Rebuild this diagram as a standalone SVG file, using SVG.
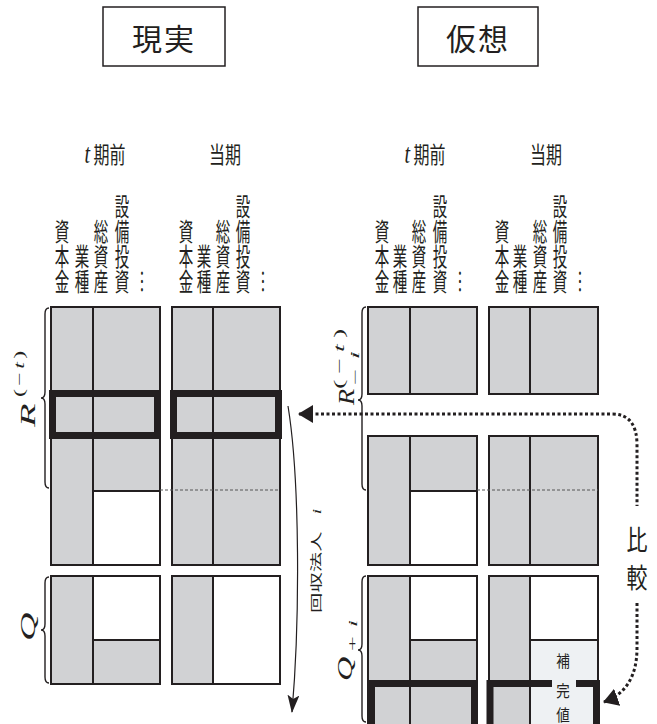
<svg xmlns="http://www.w3.org/2000/svg" width="657" height="724" viewBox="0 0 657 724">
<defs>
<style>
.g{fill:#d1d2d4}
.w{fill:#ffffff}
.lt{fill:#eef1f3}
.o{fill:none;stroke:#231f20;stroke-width:2}
.ln{stroke:#231f20;stroke-width:2}
.th{fill:none;stroke:#231f20;stroke-width:7}
.ds{stroke:#555;stroke-width:1;stroke-dasharray:3 2}
.jp{font-family:"Noto Sans CJK JP","Noto Sans CJK SC",sans-serif;fill:#231f20}
.vh{font-family:"Noto Sans CJK JP","Noto Sans CJK SC",sans-serif;font-size:14.5px;fill:#231f20;writing-mode:vertical-rl;text-anchor:end}
.m{font-family:"Liberation Serif",serif;font-style:italic;fill:#231f20}
.br{fill:none;stroke:#231f20;stroke-width:1.4}
.dot{fill:none;stroke:#231f20;stroke-width:3;stroke-dasharray:3 2.5}
</style>
<marker id="ad" viewBox="0 0 15 18" markerWidth="15" markerHeight="18" refX="14" refY="9" orient="auto-start-reverse" markerUnits="userSpaceOnUse">
<path d="M0,0 L15,9 L0,18 z" fill="#231f20"/>
</marker>
<marker id="at" viewBox="0 0 18 12" markerWidth="18" markerHeight="12" refX="17" refY="6" orient="auto" markerUnits="userSpaceOnUse">
<path d="M0,0 L18,6 L0,12 L4,6 z" fill="#231f20"/>
</marker>
</defs>
<rect width="657" height="724" fill="#ffffff"/>

<g id="title-real">
<rect x="103" y="7" width="122" height="59" fill="none" stroke="#231f20" stroke-width="1.5"/>
<text class="jp" x="164" y="50" font-size="30" text-anchor="middle" letter-spacing="2">現実</text>
</g>
<g id="title-virtual">
<rect x="418" y="7" width="120" height="59" fill="none" stroke="#231f20" stroke-width="1.5"/>
<text class="jp" x="478" y="50" font-size="30" text-anchor="middle" letter-spacing="2">仮想</text>
</g>

<g id="headers">
<text class="jp" transform="translate(105,163) scale(1,1.4)" font-size="16" text-anchor="middle"><tspan class="m" font-size="20">t</tspan> 期前</text>
<text class="jp" transform="translate(225,163) scale(1,1.4)" font-size="16" text-anchor="middle">当期</text>
<text class="jp" transform="translate(425,163) scale(1,1.4)" font-size="16" text-anchor="middle"><tspan class="m" font-size="20">t</tspan> 期前</text>
<text class="jp" transform="translate(546,163) scale(1,1.4)" font-size="16" text-anchor="middle">当期</text>
</g>

<g id="col-labels">
<text class="vh" transform="translate(62,294) scale(1,1.72)">資本金</text>
<text class="vh" transform="translate(82,294) scale(1,1.72)">業種</text>
<text class="vh" transform="translate(101,294) scale(1,1.72)">総資産</text>
<text class="vh" transform="translate(122,294) scale(1,1.72)">設備投資</text>
<text class="vh" transform="translate(142,294) scale(1,1.72)">…</text>
<text class="vh" transform="translate(186,294) scale(1,1.72)">資本金</text>
<text class="vh" transform="translate(204,294) scale(1,1.72)">業種</text>
<text class="vh" transform="translate(223,294) scale(1,1.72)">総資産</text>
<text class="vh" transform="translate(243,294) scale(1,1.72)">設備投資</text>
<text class="vh" transform="translate(263,294) scale(1,1.72)">…</text>
<text class="vh" transform="translate(382,294) scale(1,1.72)">資本金</text>
<text class="vh" transform="translate(400,294) scale(1,1.72)">業種</text>
<text class="vh" transform="translate(419,294) scale(1,1.72)">総資産</text>
<text class="vh" transform="translate(440,294) scale(1,1.72)">設備投資</text>
<text class="vh" transform="translate(460,294) scale(1,1.72)">…</text>
<text class="vh" transform="translate(502,294) scale(1,1.72)">資本金</text>
<text class="vh" transform="translate(520,294) scale(1,1.72)">業種</text>
<text class="vh" transform="translate(540,294) scale(1,1.72)">総資産</text>
<text class="vh" transform="translate(560,294) scale(1,1.72)">設備投資</text>
<text class="vh" transform="translate(580,294) scale(1,1.72)">…</text>
</g>

<!-- Real: R blocks -->
<g id="real-R-prev">
<rect class="g" x="51" y="307" width="109" height="258"/>
<rect class="w" x="93" y="491" width="67" height="74"/>
<line class="ln" x1="93" y1="307" x2="93" y2="565"/>
<line class="ln" x1="93" y1="491" x2="160" y2="491"/>
<rect class="o" x="51" y="307" width="109" height="258"/>
<rect class="th" x="52.5" y="393.5" width="105" height="42"/>
</g>
<g id="real-R-cur">
<rect class="g" x="172" y="307" width="108" height="258"/>
<line class="ln" x1="213" y1="307" x2="213" y2="565"/>
<rect class="o" x="172" y="307" width="108" height="258"/>
<rect class="th" x="173.5" y="393.5" width="105" height="42"/>
</g>
<g id="real-Q-prev">
<rect class="g" x="51" y="576" width="109" height="108"/>
<rect class="w" x="93" y="576" width="67" height="64"/>
<line class="ln" x1="93" y1="576" x2="93" y2="684"/>
<line class="ln" x1="93" y1="640" x2="160" y2="640"/>
<rect class="o" x="51" y="576" width="109" height="108"/>
</g>
<g id="real-Q-cur">
<rect class="g" x="172" y="576" width="108" height="108"/>
<rect class="w" x="213" y="576" width="67" height="108"/>
<line class="ln" x1="213" y1="576" x2="213" y2="684"/>
<rect class="o" x="172" y="576" width="108" height="108"/>
</g>

<!-- Virtual -->
<g id="virt-R-upper-prev">
<rect class="g" x="368" y="307" width="109" height="87"/>
<line class="ln" x1="410" y1="307" x2="410" y2="394"/>
<rect class="o" x="368" y="307" width="109" height="87"/>
</g>
<g id="virt-R-upper-cur">
<rect class="g" x="489" y="307" width="109" height="87"/>
<line class="ln" x1="530" y1="307" x2="530" y2="394"/>
<rect class="o" x="489" y="307" width="109" height="87"/>
</g>
<g id="virt-R-lower-prev">
<rect class="g" x="368" y="436" width="109" height="129"/>
<rect class="w" x="410" y="491" width="67" height="74"/>
<line class="ln" x1="410" y1="436" x2="410" y2="565"/>
<line class="ln" x1="410" y1="491" x2="477" y2="491"/>
<rect class="o" x="368" y="436" width="109" height="129"/>
</g>
<g id="virt-R-lower-cur">
<rect class="g" x="489" y="436" width="109" height="129"/>
<line class="ln" x1="530" y1="436" x2="530" y2="565"/>
<rect class="o" x="489" y="436" width="109" height="129"/>
</g>
<g id="virt-Q-prev">
<rect class="g" x="368" y="576" width="109" height="160"/>
<rect class="w" x="410" y="576" width="67" height="64"/>
<line class="ln" x1="410" y1="576" x2="410" y2="736"/>
<line class="ln" x1="410" y1="640" x2="477" y2="640"/>
<rect class="o" x="368" y="576" width="109" height="160"/>
<path d="M371.5,740 V683.5 H474.5 V740" fill="none" stroke="#231f20" stroke-width="7"/>
</g>
<g id="virt-Q-cur">
<rect class="g" x="489" y="576" width="109" height="160"/>
<rect class="w" x="530" y="576" width="68" height="64"/>
<rect class="lt" x="530" y="640" width="68" height="96"/>
<line class="ln" x1="530" y1="576" x2="530" y2="736"/>
<line class="ln" x1="530" y1="640" x2="598" y2="640"/>
<rect class="o" x="489" y="576" width="109" height="160"/>
<path d="M490,740 V683.5 H552 M576,683.5 H596.5 V740" fill="none" stroke="#231f20" stroke-width="7"/>
<text class="jp" transform="translate(563,667) scale(1,1.2)" font-size="13.5" text-anchor="middle">補</text>
<text class="jp" transform="translate(563,697) scale(1,1.2)" font-size="13.5" text-anchor="middle">完</text>
<text class="jp" transform="translate(563,721) scale(1,1.2)" font-size="13.5" text-anchor="middle">値</text>
</g>

<g id="dashes">
<line class="ds" x1="160" y1="490" x2="280" y2="490"/>
<line class="ds" x1="477" y1="490" x2="598" y2="490"/>
</g>

<g id="braces">
<path class="br" d="M49,308 Q45,308 45,314 L45,392 Q45,398 41,398 Q45,398 45,404 L45,482 Q45,488 49,488"/>
<path class="br" d="M49,577 Q45,577 45,583 L45,624 Q45,630 41,630 Q45,630 45,636 L45,677 Q45,683 49,683"/>
<path class="br" d="M366,307 Q362,307 362,313 L362,394 Q362,400 358,400 Q362,400 362,406 L362,484 Q362,490 366,490"/>
<path class="br" d="M366,576 Q362,576 362,582 L362,644 Q362,650 358,650 Q362,650 362,656 L362,716 Q362,722 366,722"/>
</g>

<g id="math-labels">
<g transform="translate(35,427) rotate(-90)">
<text class="m" font-size="22" transform="scale(1.75,1)">R</text>
<text class="m" font-size="14" x="0" y="0" transform="translate(30,-11) scale(1.7,1)" letter-spacing="2" style="font-style:normal">(−<tspan style="font-style:italic">t</tspan>)</text>
</g>
<g transform="translate(35,641) rotate(-90)">
<text class="m" font-size="22" transform="scale(1.8,1)">Q</text>
</g>
<g transform="translate(354,405) rotate(-90)">
<text class="m" font-size="24" transform="scale(1.1,1)">R</text>
<text class="m" font-size="14" transform="translate(16,-10) scale(2,1)" letter-spacing="3" style="font-style:normal">(−<tspan style="font-style:italic">t</tspan>)</text>
<text class="m" font-size="12" transform="translate(20,5) scale(2.4,1)" letter-spacing="4" style="font-style:normal">−<tspan style="font-style:italic">i</tspan></text>
</g>
<g transform="translate(352,681) rotate(-90)">
<text class="m" font-size="21" transform="scale(1.6,1)">Q</text>
<text class="m" font-size="12" transform="translate(30,5) scale(2.2,1)" letter-spacing="4" style="font-style:normal">+<tspan style="font-style:italic">i</tspan></text>
</g>
</g>

<g id="side-labels">
<text class="jp" transform="translate(321,613) rotate(-90) scale(1.7,1)" font-size="12">回収法人<tspan class="m" dx="10">i</tspan></text>
<text class="jp" transform="translate(637,550) scale(1,1.3)" font-size="21" text-anchor="middle">比</text>
<text class="jp" transform="translate(637,588) scale(1,1.3)" font-size="21" text-anchor="middle">較</text>
</g>

<g id="connectors">
<path d="M288,406 C300,480 300,620 292,712" fill="none" stroke="#231f20" stroke-width="1.2" marker-end="url(#at)"/>
<path class="dot" d="M299,414 H612 Q637,414 637,445 V506" marker-start="url(#ad)"/>
<path class="dot" d="M637,603 V648 Q637,690 604,702" marker-end="url(#ad)"/>
</g>
</svg>
